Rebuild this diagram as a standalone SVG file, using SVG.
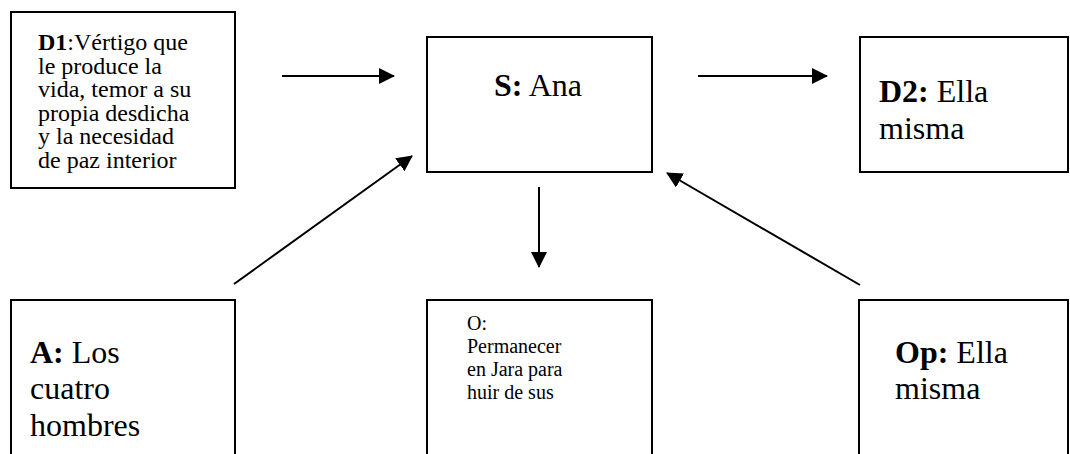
<svg xmlns="http://www.w3.org/2000/svg" width="1070" height="454" viewBox="0 0 1070 454">
<style>
.box{fill:#fff;stroke:#000;stroke-width:2}
text{font-family:"Liberation Serif","DejaVu Serif",serif;fill:#000}
.big{font-size:32px}
.mid{font-size:20px}
.sm{font-size:24px}
.b{font-weight:bold}
.c{stroke:#000;stroke-width:2;fill:none}
</style>
<defs>
<marker id="ah" markerWidth="16" markerHeight="16" viewBox="0 0 16 16" refX="15" refY="8" orient="auto" markerUnits="userSpaceOnUse">
<path d="M0,0 L16,8 L0,16 Z" fill="#000"/>
</marker>
</defs>
<rect width="1070" height="454" fill="#fff"/>
<g id="D1">
<rect class="box" x="11" y="12" width="224" height="176"/>
<text class="sm" font-family="Liberation Serif, serif"><tspan x="38" y="50"><tspan class="b">D1</tspan>:Vértigo que</tspan><tspan x="38" y="73.5">le produce la</tspan><tspan x="38" y="97">vida, temor a su</tspan><tspan x="38" y="120.5">propia desdicha</tspan><tspan x="38" y="144">y la necesidad</tspan><tspan x="38" y="167.5">de paz interior</tspan></text>
</g>
<g id="S">
<rect class="box" x="427" y="37" width="225" height="135"/>
<text class="big" font-family="Liberation Serif, serif" x="494" y="96"><tspan class="b">S:</tspan> Ana</text>
</g>
<g id="D2">
<rect class="box" x="860" y="37" width="208" height="135"/>
<text class="big" font-family="Liberation Serif, serif"><tspan x="879" y="102"><tspan class="b">D2:</tspan> Ella</tspan><tspan x="879" y="139">misma</tspan></text>
</g>
<g id="A">
<rect class="box" x="11" y="300" width="224" height="170"/>
<text class="big" font-family="Liberation Serif, serif"><tspan x="30" y="363"><tspan class="b">A:</tspan> Los</tspan><tspan x="30" y="399">cuatro</tspan><tspan x="30" y="436">hombres</tspan></text>
</g>
<g id="O">
<rect class="box" x="427" y="300" width="225" height="170"/>
<text class="mid" font-family="Liberation Serif, serif"><tspan x="467" y="330">O:</tspan><tspan x="467" y="353">Permanecer</tspan><tspan x="467" y="376">en Jara para</tspan><tspan x="467" y="399">huir de sus</tspan></text>
</g>
<g id="Op">
<rect class="box" x="859" y="300" width="209" height="170"/>
<text class="big" font-family="Liberation Serif, serif"><tspan x="895" y="363"><tspan class="b">Op:</tspan> Ella</tspan><tspan x="895" y="399">misma</tspan></text>
</g>
<g id="connectors">
<line class="c" x1="282" y1="76" x2="394" y2="76" marker-end="url(#ah)"/>
<line class="c" x1="698" y1="76" x2="827" y2="76" marker-end="url(#ah)"/>
<line class="c" x1="539" y1="187" x2="539" y2="267" marker-end="url(#ah)"/>
<line class="c" x1="234" y1="284" x2="412" y2="156" marker-end="url(#ah)"/>
<line class="c" x1="860" y1="285" x2="667" y2="173" marker-end="url(#ah)"/>
</g>
</svg>
